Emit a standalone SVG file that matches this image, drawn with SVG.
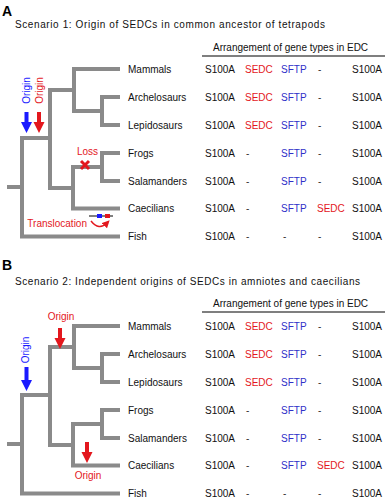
<svg xmlns="http://www.w3.org/2000/svg" width="386" height="500" viewBox="0 0 386 500">
<style>
text{font-family:"Liberation Sans",Arial,sans-serif;font-size:10px;fill:#111}
.pl{font-size:14px;font-weight:bold;fill:#000}
.r{fill:#e3171d}
.b{fill:#1a1aff}
.sf{fill:#3030c8}
.d{fill:#333}
.tree{fill:none;stroke:#8a8a8a;stroke-width:4;stroke-linejoin:miter;stroke-linecap:butt}
.arB{fill:#1a1aff}
.arR{fill:#e3171d}
.hl{stroke:#000;stroke-width:1.2}
</style>
<defs>
<g id="tree">
<path class="tree" d="M120,69 H74 V111 H102 M120,97 H102 V125 H120 M74,90 H50 V188 H73 M120,153 H102 V181 H120 M102,167 H73 V208.5 H120 M50,138 H22 V236.5 H120 M7,187 H22"/>
</g>
<path id="arrow" d="M-2,0 H2 V10 H5.5 L0,21 L-5.5,10 H-2 Z"/>
<marker id="mh" viewBox="0 0 6 6" refX="3" refY="3" markerWidth="5" markerHeight="5" orient="auto"><path d="M0,0 L6,3 L0,6 Z" fill="#e3171d"/></marker>
</defs>

<!-- Panel A -->
<g id="panelA-title">
<text class="pl" x="2" y="16">A</text>
<text x="15" y="28" textLength="310" lengthAdjust="spacing">Scenario 1: Origin of SEDCs in common ancestor of tetrapods</text>
<text x="213" y="51">Arrangement of gene types in EDC</text>
<line class="hl" x1="202" y1="56" x2="385" y2="56"/>
</g>
<g id="connectorsA"><use href="#tree"/></g>
<g id="eventsA">
<text class="b" transform="translate(29.5,90.5) rotate(-90)" text-anchor="middle">Origin</text>
<text class="r" transform="translate(42.5,90.5) rotate(-90)" text-anchor="middle">Origin</text>
<use href="#arrow" class="arB" x="26.5" y="112"/>
<use href="#arrow" class="arR" x="39" y="112"/>
<text class="r" x="77" y="155">Loss</text>
<path d="M81,161 L89,169 M89,161 L81,169" stroke="#e3171d" stroke-width="3"/>
<text class="r" x="87" y="227" text-anchor="end">Translocation</text>
<line x1="89" y1="216" x2="113" y2="216" stroke="#000" stroke-width="1"/>
<rect x="97" y="214" width="5" height="4" fill="#1a1aff"/>
<rect x="105" y="214" width="5" height="4" fill="#e3171d"/>
<path d="M91,221 Q99,231 107,223" fill="none" stroke="#e3171d" stroke-width="1.5" marker-end="url(#mh)"/>
</g>
<g id="rowsA">
<g id="a-mammals"><text x="128" y="72.5">Mammals</text><text x="205" y="72.5">S100A</text><text class="r" x="245" y="72.5">SEDC</text><text class="sf" x="281" y="72.5">SFTP</text><text class="d" x="318" y="72.5">-</text><text x="352" y="72.5">S100A</text></g>
<g id="a-arch"><text x="128" y="100.5">Archelosaurs</text><text x="205" y="100.5">S100A</text><text class="r" x="245" y="100.5">SEDC</text><text class="sf" x="281" y="100.5">SFTP</text><text class="d" x="318" y="100.5">-</text><text x="352" y="100.5">S100A</text></g>
<g id="a-lepi"><text x="128" y="128.5">Lepidosaurs</text><text x="205" y="128.5">S100A</text><text class="r" x="245" y="128.5">SEDC</text><text class="sf" x="281" y="128.5">SFTP</text><text class="d" x="318" y="128.5">-</text><text x="352" y="128.5">S100A</text></g>
<g id="a-frogs"><text x="128" y="156.5">Frogs</text><text x="205" y="156.5">S100A</text><text class="d" x="246" y="156.5">-</text><text class="sf" x="281" y="156.5">SFTP</text><text class="d" x="318" y="156.5">-</text><text x="352" y="156.5">S100A</text></g>
<g id="a-sala"><text x="128" y="184.5">Salamanders</text><text x="205" y="184.5">S100A</text><text class="d" x="246" y="184.5">-</text><text class="sf" x="281" y="184.5">SFTP</text><text class="d" x="318" y="184.5">-</text><text x="352" y="184.5">S100A</text></g>
<g id="a-caec"><text x="128" y="212">Caecilians</text><text x="205" y="212">S100A</text><text class="d" x="246" y="212">-</text><text class="sf" x="281" y="212">SFTP</text><text class="r" x="317" y="212">SEDC</text><text x="352" y="212">S100A</text></g>
<g id="a-fish"><text x="128" y="240">Fish</text><text x="205" y="240">S100A</text><text class="d" x="246" y="240">-</text><text class="d" x="283" y="240">-</text><text class="d" x="318" y="240">-</text><text x="352" y="240">S100A</text></g>
</g>

<!-- Panel B -->
<g id="panelB-title">
<text class="pl" x="2" y="270">B</text>
<text x="15" y="285" textLength="345" lengthAdjust="spacing">Scenario 2: Independent origins of SEDCs in amniotes and caecilians</text>
<text x="213" y="307">Arrangement of gene types in EDC</text>
<line class="hl" x1="202" y1="312" x2="385" y2="312"/>
</g>
<g id="connectorsB"><use href="#tree" transform="translate(0,257)"/></g>
<g id="eventsB">
<text class="r" x="61" y="320" text-anchor="middle">Origin</text>
<use href="#arrow" class="arR" x="60" y="328"/>
<text class="b" transform="translate(29,350) rotate(-90)" text-anchor="middle">Origin</text>
<path class="arB" d="M24.5,367 H28.5 V380 H32 L26.5,391 L21,380 H24.5 Z"/>
<use href="#arrow" class="arR" x="87" y="442"/>
<text class="r" x="88" y="479" text-anchor="middle">Origin</text>
</g>
<g id="rowsB">
<g id="b-mammals"><text x="128" y="329.5">Mammals</text><text x="205" y="329.5">S100A</text><text class="r" x="245" y="329.5">SEDC</text><text class="sf" x="281" y="329.5">SFTP</text><text class="d" x="318" y="329.5">-</text><text x="352" y="329.5">S100A</text></g>
<g id="b-arch"><text x="128" y="357.5">Archelosaurs</text><text x="205" y="357.5">S100A</text><text class="r" x="245" y="357.5">SEDC</text><text class="sf" x="281" y="357.5">SFTP</text><text class="d" x="318" y="357.5">-</text><text x="352" y="357.5">S100A</text></g>
<g id="b-lepi"><text x="128" y="385.5">Lepidosaurs</text><text x="205" y="385.5">S100A</text><text class="r" x="245" y="385.5">SEDC</text><text class="sf" x="281" y="385.5">SFTP</text><text class="d" x="318" y="385.5">-</text><text x="352" y="385.5">S100A</text></g>
<g id="b-frogs"><text x="128" y="413.5">Frogs</text><text x="205" y="413.5">S100A</text><text class="d" x="246" y="413.5">-</text><text class="sf" x="281" y="413.5">SFTP</text><text class="d" x="318" y="413.5">-</text><text x="352" y="413.5">S100A</text></g>
<g id="b-sala"><text x="128" y="441.5">Salamanders</text><text x="205" y="441.5">S100A</text><text class="d" x="246" y="441.5">-</text><text class="sf" x="281" y="441.5">SFTP</text><text class="d" x="318" y="441.5">-</text><text x="352" y="441.5">S100A</text></g>
<g id="b-caec"><text x="128" y="469">Caecilians</text><text x="205" y="469">S100A</text><text class="d" x="246" y="469">-</text><text class="sf" x="281" y="469">SFTP</text><text class="r" x="317" y="469">SEDC</text><text x="352" y="469">S100A</text></g>
<g id="b-fish"><text x="128" y="497">Fish</text><text x="205" y="497">S100A</text><text class="d" x="246" y="497">-</text><text class="d" x="283" y="497">-</text><text class="d" x="318" y="497">-</text><text x="352" y="497">S100A</text></g>
</g>
</svg>
